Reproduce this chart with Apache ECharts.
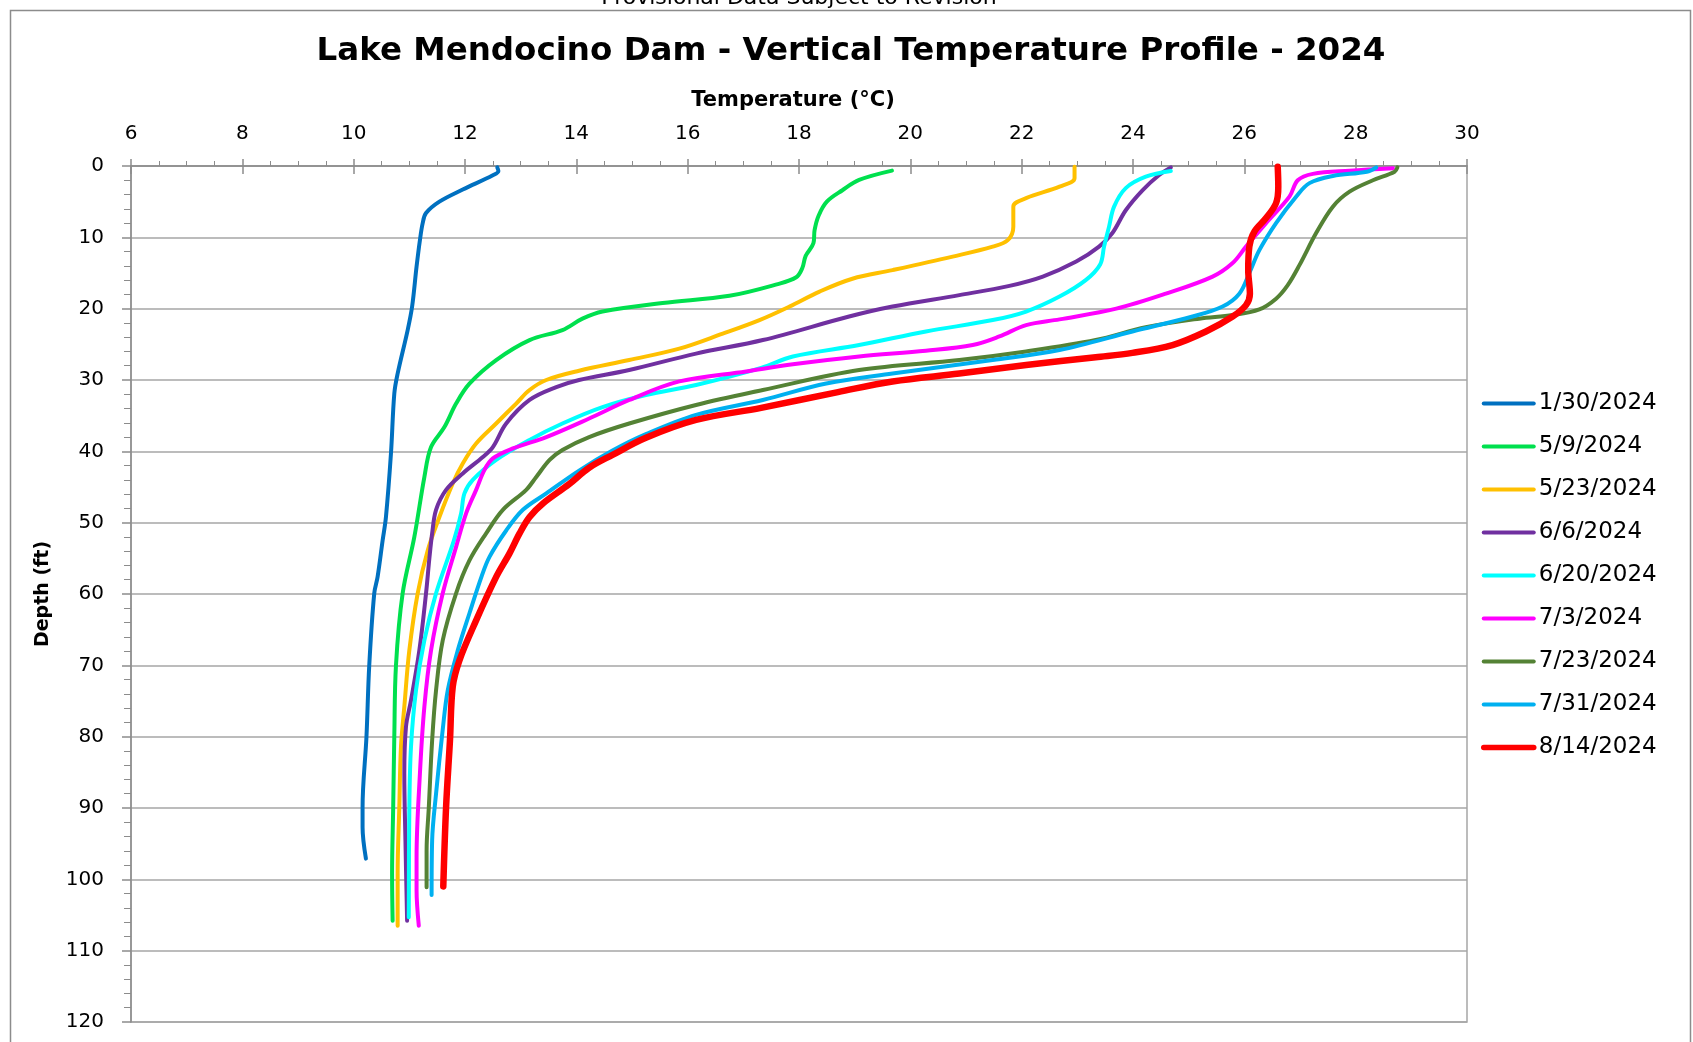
<!DOCTYPE html>
<html>
<head>
<meta charset="utf-8">
<script src="https://cdn.jsdelivr.net/npm/echarts@6/dist/echarts.min.js"></script>
<style>
html,body{margin:0;padding:0;background:#fff;}
#chart{width:1693px;height:1042px;}
</style>
</head>
<body>
<div id="chart"></div>
<script>
// ---------- DATA (temperature °C, depth ft) ----------
const seriesNames = ['1/30/2024','5/9/2024','5/23/2024','6/6/2024','6/20/2024','7/3/2024','7/23/2024','7/31/2024','8/14/2024'];
const xTicks = [6,8,10,12,14,16,18,20,22,24,26,28,30];
const yTicks = [0,10,20,30,40,50,60,70,80,90,100,110,120];

const temp0130 = [12.58,12.60,12.50,11.96,11.54,11.30,11.24,11.19,11.13,11.05,10.97,10.79,10.73,10.67,10.58,10.52,10.43,10.37,10.28,10.23,10.16,10.16,10.22];
const depth0130 = [0.2,0.7,1.3,3.3,5.0,6.6,8.0,10.4,14.1,19.7,23.0,29.1,31.9,40.3,49.2,52.5,57.6,59.9,70.0,80.0,89.9,92.7,97.1];

const temp0509 = [19.67,19.08,18.78,18.50,18.35,18.28,18.26,18.12,18.06,17.95,17.60,16.75,15.55,14.47,14.11,13.75,13.16,12.56,12.08,11.84,11.63,11.39,11.27,11.09,10.88,10.76,10.73,10.71,10.69,10.70];
const depth0509 = [0.65,1.96,3.4,5.0,7.0,9.0,10.8,12.6,14.3,15.6,16.6,18.2,19.2,20.4,21.4,23.0,24.4,27.2,30.5,33.3,36.6,39.4,43.6,52.0,59.9,70.0,80.0,89.9,99.2,105.8];

const temp0523 = [22.95,22.95,22.68,22.08,21.85,21.85,21.75,21.48,20.76,19.68,18.96,18.37,17.83,17.29,16.63,15.85,14.95,14.05,13.46,13.16,12.92,12.56,12.20,11.96,11.78,11.54,11.33,11.15,11.00,10.91,10.85,10.82,10.79,10.79];
const depth0523 = [0.1,1.7,2.9,4.5,5.7,8.5,10.4,11.3,12.7,14.6,15.8,17.6,19.7,21.6,23.5,25.6,27.2,28.7,30.0,31.4,33.3,36.1,38.9,41.7,44.5,49.2,53.9,59.9,67.9,75.8,81.4,89.9,99.2,106.5];

const temp0606 = [24.68,24.47,24.17,23.87,23.63,23.39,22.98,22.38,21.78,20.88,19.68,18.90,17.35,16.15,14.95,14.05,13.64,13.16,12.74,12.50,12.32,11.96,11.66,11.48,11.41,11.36,11.30,11.18,11.03,10.94,10.91,10.93,10.96];
const depth0606 = [0.2,1.26,3.4,6.2,9.4,11.3,13.4,15.5,16.8,18.1,19.7,21.1,24.4,26.3,28.6,30.0,31.0,32.8,36.1,39.4,40.8,43.1,45.4,48.2,51.5,55.0,59.9,67.9,74.9,78.6,85.2,94.5,105.8];

const temp0620 = [24.68,24.23,23.87,23.66,23.57,23.48,23.41,23.15,22.68,22.08,21.48,20.28,19.08,17.89,17.32,16.15,15.25,14.47,13.75,13.16,12.56,12.14,11.99,11.93,11.80,11.48,11.27,11.12,11.03,11.00,10.99];
const depth0620 = [0.7,1.5,3.1,5.7,8.5,11.3,13.8,16.0,18.3,20.4,21.6,23.2,25.1,26.7,28.3,30.7,32.1,33.8,36.1,38.4,41.2,44.0,45.9,48.7,52.5,59.9,66.5,73.5,81.4,89.9,105.3];

const temp0703 = [28.67,27.89,27.23,26.96,26.81,26.39,26.03,25.79,25.43,24.59,23.70,22.68,22.08,21.60,21.12,20.28,19.08,17.89,17.05,15.85,14.95,14.23,13.46,12.86,12.50,12.35,12.20,12.02,11.84,11.60,11.39,11.27,11.19,11.13,11.13,11.17];
const depth0703 = [0.3,0.65,1.1,2.0,4.3,8.0,11.3,13.6,15.5,17.9,20.0,21.5,22.3,23.9,25.1,25.9,26.7,27.8,28.8,30.2,32.8,35.4,38.0,39.6,41.0,42.6,45.4,48.7,53.4,59.9,67.9,75.8,85.2,96.9,101.5,106.5];

const temp0723 = [28.75,28.70,28.31,27.89,27.59,27.29,26.99,26.78,26.57,26.27,25.79,25.19,24.23,23.33,22.08,20.88,19.08,17.35,16.15,14.95,14.23,13.75,13.52,13.28,13.10,12.68,12.38,12.08,11.84,11.60,11.48,11.41,11.35,11.31,11.31];
const depth0723 = [0.2,0.8,2.0,3.6,5.7,9.4,13.9,16.7,18.6,20.1,20.9,21.4,22.6,24.4,26.0,27.2,28.6,31.4,33.5,36.1,38.0,39.8,41.2,43.6,45.4,48.2,51.5,55.3,59.9,66.5,73.5,80.5,89.9,96.0,101.1];

const temp0731 = [28.37,28.20,27.59,27.17,26.93,26.57,26.27,26.09,25.91,25.61,25.07,23.99,22.68,21.48,19.68,18.49,17.35,16.15,15.25,14.65,14.05,13.46,13.04,12.74,12.44,12.30,12.08,11.87,11.69,11.60,11.48,11.41,11.40];
const depth0731 = [0.2,0.8,1.4,2.4,4.3,8.0,11.8,15.0,17.9,19.7,21.1,23.2,25.8,27.2,29.1,30.5,32.8,34.9,37.6,39.9,42.7,45.9,48.2,51.1,54.8,57.5,62.7,67.9,73.5,79.0,88.0,94.5,102.2];

const temp0814 = [26.60,26.61,26.57,26.39,26.18,26.09,26.07,26.10,26.03,25.79,25.31,24.71,23.99,23.33,22.08,20.88,19.68,18.70,17.32,16.15,15.25,14.65,14.23,13.87,13.40,13.16,12.98,12.80,12.56,12.20,11.90,11.78,11.73,11.66,11.61];
const depth0814 = [0.1,2.9,5.2,7.3,9.2,11.3,14.6,17.9,19.5,21.1,23.2,25.1,26.2,26.8,27.9,29.1,30.2,31.7,33.9,35.6,38.1,40.5,42.3,44.6,47.3,49.2,51.5,54.3,57.6,63.7,69.3,73.0,80.5,89.9,101.0];

// ---------- STYLE ----------
const lineColors = ['#0070C0','#00E04E','#FFC000','#7030A0','#00FFFF','#FF00FF','#548235','#00B0F0','#FF0000'];
const lineWidths = [4,4,4,4,4,4,4,4,6.5];
const legendWidths = [4,4,4,4,4,4,4,4,5.5];

const temps = [temp0130,temp0509,temp0523,temp0606,temp0620,temp0703,temp0723,temp0731,temp0814];
const depths = [depth0130,depth0509,depth0523,depth0606,depth0620,depth0703,depth0723,depth0731,depth0814];

const FONT = 'DejaVu Sans';

const chart = echarts.init(document.getElementById('chart'), null, {renderer:'canvas'});

const series = seriesNames.map((name, i) => ({
  name: name,
  type: 'line',
  xAxisIndex: 0,
  yAxisIndex: 0,
  showSymbol: false,
  symbol: 'none',
  smooth: 0.35,
  animation: false,
  lineStyle: {color: lineColors[i], width: lineWidths[i], cap: 'round', join: 'round'},
  itemStyle: {color: lineColors[i]},
  data: temps[i].map((t, k) => [t, depths[i][k]])
}));

const xMin = xTicks[0], xMax = xTicks[xTicks.length-1], xInt = xTicks[1]-xTicks[0];
const yMin = yTicks[0], yMax = yTicks[yTicks.length-1], yInt = yTicks[1]-yTicks[0];

chart.setOption({
  animation: false,
  backgroundColor: '#ffffff',
  grid: {left: 131, top: 166, width: 1336, height: 856, show: true, borderColor: '#a6a6a6', borderWidth: 1.5, containLabel: false},
  xAxis: [{
    type: 'value', position: 'top', min: xMin, max: xMax, interval: xInt,
    name: 'Temperature (°C)', nameLocation: 'middle', nameGap: 55,
    nameTextStyle: {fontFamily: FONT, fontWeight: 'bold', fontSize: 21, color: '#000', padding: [0, 12, 0, 0]},
    axisLine: {show: true, lineStyle: {color: '#8c8c8c', width: 1.5}},
    axisTick: {show: true, inside: false, length: 7, lineStyle: {color: '#8c8c8c', width: 1.5}},
    minorTick: {show: true, splitNumber: 4, length: 5, lineStyle: {color: '#8c8c8c', width: 1}},
    axisLabel: {fontFamily: FONT, fontSize: 20, color: '#000', margin: 22},
    splitLine: {show: false}
  },{
    type: 'value', position: 'top', min: xMin, max: xMax, interval: xInt,
    axisLine: {show: false},
    axisTick: {show: true, inside: true, length: 8, lineStyle: {color: '#8c8c8c', width: 1.5}},
    axisLabel: {show: false},
    splitLine: {show: false}
  }],
  yAxis: [{
    type: 'value', inverse: true, min: yMin, max: yMax, interval: yInt,
    name: 'Depth (ft)', nameLocation: 'middle', nameGap: 78, nameRotate: 90,
    nameTextStyle: {fontFamily: FONT, fontWeight: 'bold', fontSize: 19, color: '#000'},
    axisLine: {show: true, lineStyle: {color: '#8c8c8c', width: 1.5}},
    axisTick: {show: true, inside: false, length: 9, lineStyle: {color: '#8c8c8c', width: 1.5}},
    minorTick: {show: true, splitNumber: 5, length: 7, lineStyle: {color: '#8c8c8c', width: 1}},
    axisLabel: {fontFamily: FONT, fontSize: 20, color: '#000', margin: 27},
    splitLine: {show: true, lineStyle: {color: '#a6a6a6', width: 1.5}}
  }],
  legend: {
    show: true, orient: 'vertical', left: 1481, top: 392, padding: 0,
    itemWidth: 50, itemHeight: 14, itemGap: 20,
    itemStyle: {opacity: 0},
    lineStyle: {width: 4, cap: 'round'},
    textStyle: {fontFamily: FONT, fontSize: 23, color: '#000'},
    data: seriesNames.map((n, i) => ({name: n, lineStyle: {width: legendWidths[i], cap: 'round'}}))
  },
  graphic: [
    {type: 'rect', silent: true, shape: {x: 10.5, y: 10.5, width: 1680, height: 1100},
     style: {fill: 'none', stroke: '#8c8c8c', lineWidth: 1.5}},
    {type: 'text', silent: true, x: 799, y: 9,
     style: {text: 'Provisional Data Subject to Revision', font: '22px "DejaVu Sans"', fill: '#000', align: 'center', verticalAlign: 'bottom'}},
    {type: 'text', silent: true, x: 851, y: 52,
     style: {text: 'Lake Mendocino Dam - Vertical Temperature Profile - 2024', font: 'bold 32.5px "DejaVu Sans"', fill: '#000', align: 'center', verticalAlign: 'middle'}}
  ],
  series: series
});
</script>
</body>
</html>
